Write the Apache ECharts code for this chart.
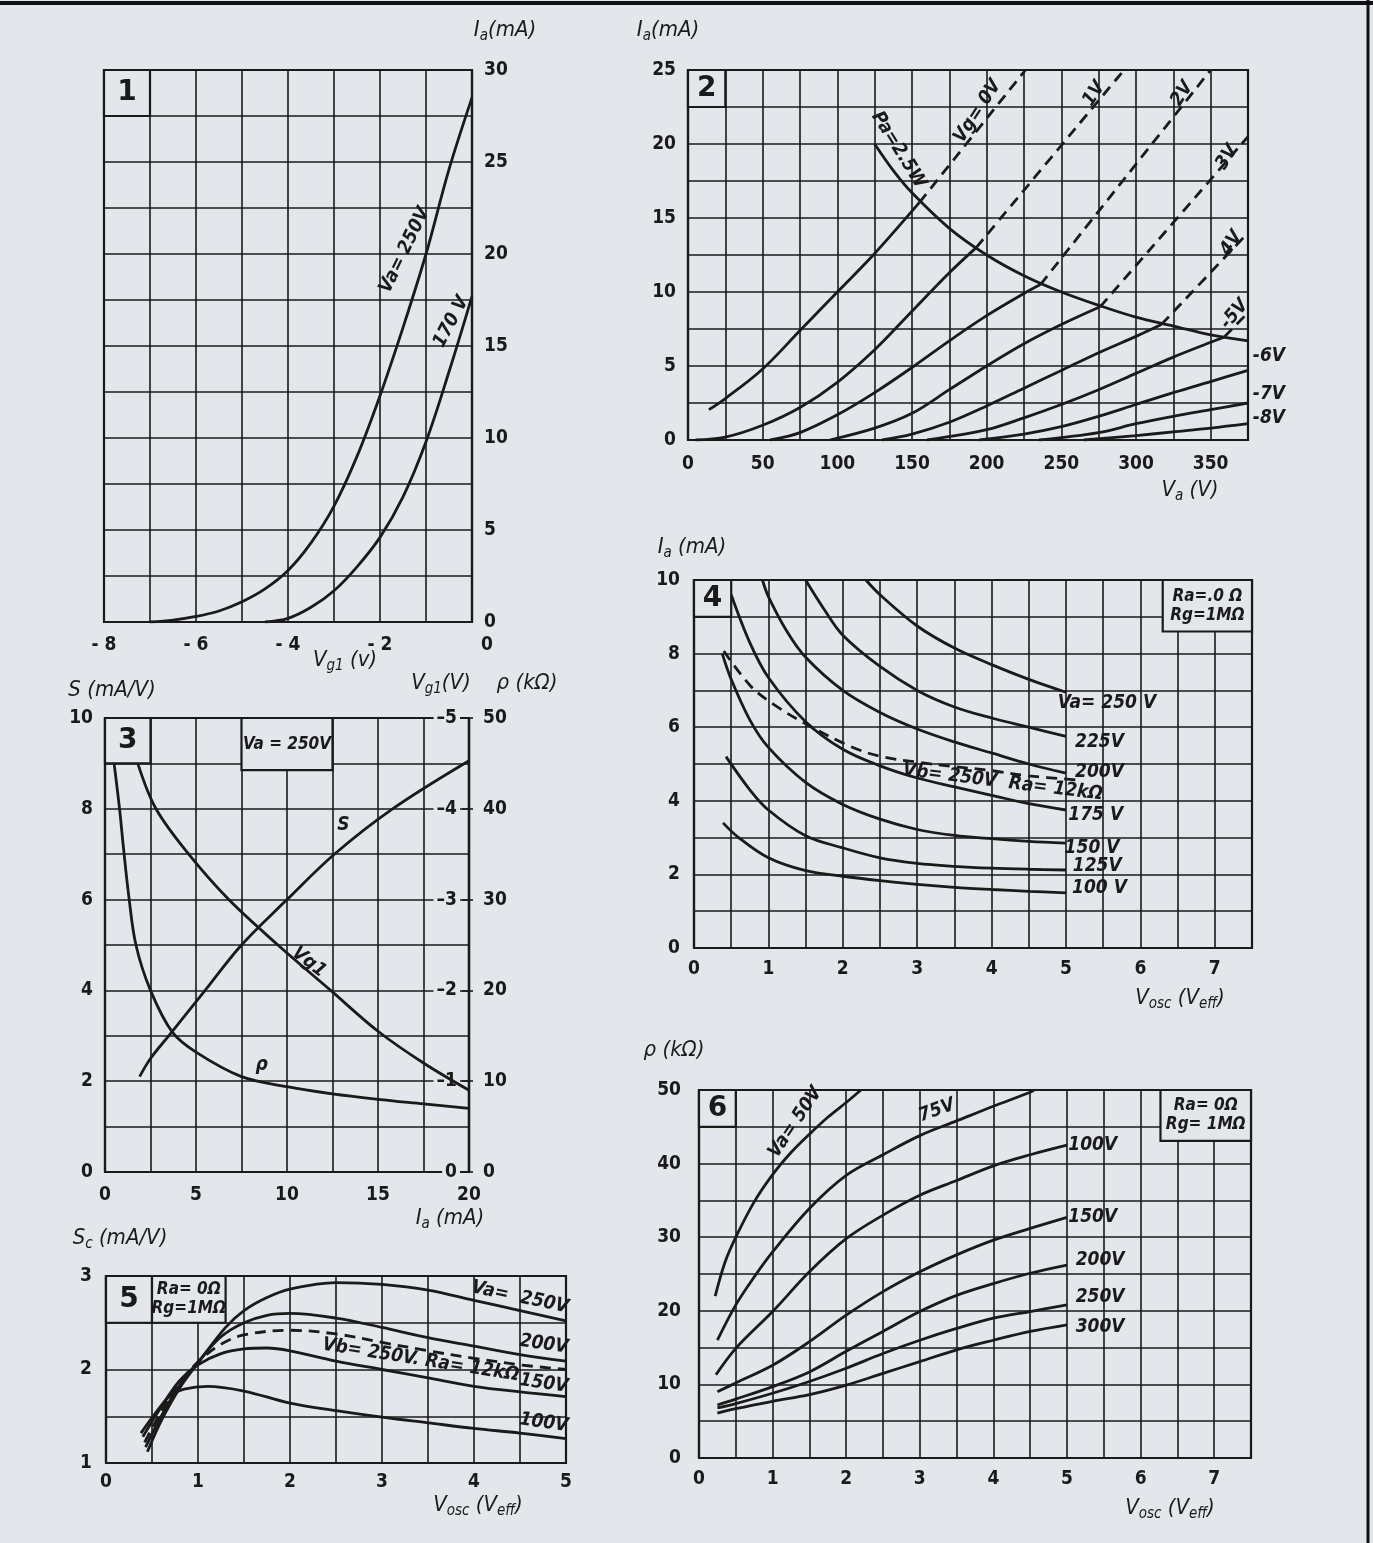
<!DOCTYPE html>
<html>
<head>
<meta charset="utf-8">
<script src="https://cdn.jsdelivr.net/npm/echarts@6/dist/echarts.min.js"></script>
<style>
  html, body { margin: 0; padding: 0; background: #e3e6ea; }
  #c { width: 1373px; height: 1543px; }
</style>
</head>
<body>
<div id="c"></div>
<script>
// ---------- Panel 1: Ia vs Vg1 ----------
const p1Va250 = [[-7,0],[-6.5,0.1],[-6,0.3],[-5.5,0.6],[-5,1.1],[-4.5,1.8],[-4,2.8],[-3.5,4.3],[-3,6.3],[-2.5,9.0],[-2,12.3],[-1.5,16.0],[-1,20.0],[-0.5,24.6],[0,28.5]];
const p1Va170 = [[-4.5,0],[-4,0.2],[-3.5,0.8],[-3,1.7],[-2.5,3.0],[-2,4.6],[-1.5,6.8],[-1,9.8],[-0.5,13.6],[0,17.7]];

// ---------- Panel 2: Ia vs Va, grid-voltage family ----------
const p2Vg0  = [[14,2.05],[25,2.8],[50,4.8],[75,7.4],[100,10],[125,12.6],[155,16.05]];
const p2Vg1  = [[5,0],[25,0.2],[50,1.0],[75,2.2],[100,3.9],[125,6.1],[150,8.7],[175,11.3],[193,13.0]];
const p2Vg2  = [[55,0],[75,0.5],[100,1.7],[125,3.2],[150,4.9],[175,6.7],[200,8.4],[225,9.9],[236,10.5]];
const p2Vg3  = [[95,0],[125,0.8],[150,1.8],[175,3.4],[200,5.0],[225,6.5],[250,7.8],[276,9.0]];
const p2Vg4  = [[130,0],[150,0.4],[175,1.2],[200,2.3],[225,3.5],[250,4.7],[275,5.9],[300,7.0],[317,7.8]];
const p2Vg5  = [[160,0],[200,0.7],[225,1.5],[250,2.4],[275,3.4],[300,4.5],[325,5.6],[350,6.6],[359,6.95]];
const p2Vg6  = [[195,0],[225,0.4],[250,0.9],[275,1.6],[300,2.4],[325,3.2],[350,3.95],[375,4.7]];
const p2Vg7  = [[235,0],[275,0.5],[300,1.1],[325,1.6],[350,2.05],[375,2.5]];
const p2Vg8  = [[265,0],[300,0.3],[325,0.55],[350,0.8],[375,1.1]];
const p2Pa   = [[125,20],[137.5,18.2],[150,16.7],[175,14.3],[200,12.5],[225,11.1],[250,10],[275,9.1],[300,8.3],[325,7.7],[350,7.1],[375,6.7]];
const p2Ext0 = [[155,16.05],[226,25]];
const p2Ext1 = [[193,13.0],[292,25]];
const p2Ext2 = [[236,10.5],[350,25]];
const p2Ext3 = [[276,9.0],[375,20.5]];
const p2Ext4 = [[317,7.8],[375,14.0]];
const p2Ext5 = [[359,6.95],[375,8.6]];

// ---------- Panel 3: S, Vg1, rho vs Ia (Va = 250 V) ----------
const p3S    = [[1.9,2.1],[2.5,2.5],[3.5,3.0],[5.5,4.0],[7.5,5.0],[10,6.0],[12.6,7.0],[15.8,8.0],[20,9.06]];
const p3Vg1  = [[1.8,-4.5],[2.8,-4.0],[4.6,-3.5],[6.8,-3.0],[9.5,-2.5],[12.4,-2.0],[15,-1.55],[17.5,-1.2],[20,-0.9]];
const p3Rho  = [[0.5,45],[0.8,40],[1.0,36],[1.3,30.5],[1.7,25],[2.5,20],[3.7,15.4],[5,13.2],[7.5,10.5],[10,9.4],[12.5,8.6],[15,8.0],[17.5,7.5],[20,7.0]];

// ---------- Panel 4: Ia vs Vosc ----------
const p4Va250 = [[2.31,10],[2.5,9.6],[3.0,8.75],[3.5,8.15],[4.0,7.7],[4.5,7.3],[5.0,6.95]];
const p4Va225 = [[1.5,10],[1.75,9.2],[2.0,8.5],[2.5,7.65],[3.0,7.0],[3.5,6.55],[4.0,6.25],[4.5,6.0],[5.0,5.75]];
const p4Va200 = [[0.92,10],[1.0,9.55],[1.25,8.6],[1.5,7.9],[2.0,7.0],[2.5,6.4],[3.0,5.95],[3.5,5.6],[4.0,5.3],[4.5,5.0],[5.0,4.75]];
const p4Va175 = [[0.5,9.6],[0.75,8.3],[1.0,7.35],[1.5,6.15],[2.0,5.4],[2.5,4.95],[3.0,4.62],[3.5,4.38],[4.0,4.15],[4.5,3.92],[5.0,3.75]];
const p4Va150 = [[0.38,8.0],[0.5,7.3],[0.75,6.2],[1.0,5.45],[1.5,4.5],[2.0,3.9],[2.5,3.5],[3.0,3.22],[3.5,3.06],[4.0,2.97],[4.5,2.9],[5.0,2.85]];
const p4Va125 = [[0.43,5.2],[0.75,4.3],[1.0,3.75],[1.5,3.05],[2.0,2.72],[2.5,2.45],[3.0,2.3],[3.5,2.22],[4.0,2.17],[4.5,2.14],[5.0,2.12]];
const p4Va100 = [[0.39,3.4],[0.6,3.0],[1.0,2.45],[1.5,2.1],[2.0,1.95],[2.5,1.83],[3.0,1.73],[3.5,1.65],[4.0,1.59],[4.5,1.54],[5.0,1.5]];
const p4Ra12k = [[0.4,8.07],[0.76,7.12],[1.07,6.62],[1.52,6.07],[2.1,5.48],[2.5,5.21],[3.0,5.05],[3.5,4.93],[4.0,4.82],[4.5,4.68],[5.13,4.57]];

// ---------- Panel 5: Sc vs Vosc ----------
const p5Va250 = [[0.45,1.12],[0.6,1.45],[0.8,1.8],[1.0,2.07],[1.3,2.45],[1.5,2.63],[1.75,2.77],[2.0,2.86],[2.5,2.93],[3.0,2.91],[3.5,2.85],[4.0,2.74],[4.5,2.63],[5.0,2.52]];
const p5Va200 = [[0.43,1.17],[0.6,1.5],[0.8,1.83],[1.0,2.08],[1.25,2.35],[1.5,2.5],[1.75,2.58],[2.0,2.6],[2.5,2.55],[3.0,2.45],[3.5,2.34],[4.0,2.25],[4.5,2.16],[5.0,2.09]];
const p5Ra12k = [[0.42,1.22],[0.6,1.55],[0.8,1.86],[1.0,2.08],[1.25,2.27],[1.5,2.37],[2.0,2.42],[2.5,2.38],[3.0,2.29],[3.5,2.2],[4.0,2.12],[4.5,2.05],[5.0,2.0]];
const p5Va150 = [[0.4,1.28],[0.6,1.6],[0.8,1.88],[1.0,2.05],[1.25,2.17],[1.5,2.22],[1.75,2.23],[2.0,2.2],[2.5,2.09],[3.0,2.0],[3.5,1.91],[4.0,1.82],[4.5,1.76],[5.0,1.71]];
const p5Va100 = [[0.38,1.32],[0.55,1.55],[0.7,1.72],[0.85,1.79],[1.1,1.82],[1.5,1.77],[2.0,1.64],[2.5,1.56],[3.0,1.49],[3.5,1.43],[4.0,1.37],[4.5,1.32],[5.0,1.26]];

// ---------- Panel 6: rho vs Vosc ----------
const p6Va50  = [[0.22,22],[0.35,26.5],[0.5,30],[0.75,34.8],[1.0,38.5],[1.25,41.5],[1.5,44],[1.75,46.3],[2.0,48.3],[2.2,50]];
const p6Va75  = [[0.25,16],[0.5,20.8],[0.75,24.6],[1.0,28],[1.5,33.9],[2.0,38.4],[2.5,41.2],[3.0,43.8],[3.5,45.8],[4.0,47.8],[4.5,49.7],[4.55,50]];
const p6Va100 = [[0.23,11.3],[0.5,14.9],[1.0,19.9],[1.5,25.3],[2.0,29.8],[2.5,33],[3.0,35.7],[3.5,37.7],[4.0,39.7],[4.5,41.2],[5.0,42.5]];
const p6Va150 = [[0.25,9],[0.5,10.2],[1.0,12.6],[1.5,15.8],[2.0,19.4],[2.5,22.6],[3.0,25.3],[3.5,27.6],[4.0,29.6],[4.5,31.2],[5.0,32.7]];
const p6Va200 = [[0.25,7.2],[0.5,8.0],[1.0,9.7],[1.5,11.7],[2.0,14.5],[2.5,17.2],[3.0,19.9],[3.5,22.1],[4.0,23.7],[4.5,25.1],[5.0,26.2]];
const p6Va250 = [[0.25,6.8],[0.5,7.4],[1.0,8.8],[1.5,10.4],[2.0,12.2],[2.5,14.2],[3.0,16.0],[3.5,17.6],[4.0,19.0],[4.5,19.9],[5.0,20.8]];
const p6Va300 = [[0.25,6.1],[0.5,6.7],[1.0,7.7],[1.5,8.6],[2.0,9.9],[2.5,11.5],[3.0,13.1],[3.5,14.7],[4.0,16.0],[4.5,17.2],[5.0,18.1]];

// Curve labels: panel index, x, y (panel data units), text, rotation in degrees
const curveLabels = [
  [0, -1.46, 20.2, 'Va= 250V', 64], [0, -0.45, 16.3, '170 V', 62],
  [1, 141, 19.6, 'Pa=2.5W', -58], [1, 194, 22.2, 'Vg= 0V', 57], [1, 272, 23.4, '1V', 57],
  [1, 331, 23.4, '2V', 57], [1, 361, 19.1, '3V', 57], [1, 364, 13.3, '4V', 57],
  [1, 366, 8.5, '-5V', 50], [1, 389, 5.7, '-6V', 0], [1, 389, 3.1, '-7V', 0], [1, 389, 1.5, '-8V', 0],
  [2, 13.1, 7.64, 'S', 0], [2, 11.2, 4.62, 'Vg1', -38], [2, 8.6, 2.35, 'ρ', 0],
  [3, 5.55, 6.65, 'Va= 250 V', 0], [3, 5.45, 5.6, '225V', 0], [3, 5.45, 4.78, '200V', 0],
  [3, 5.4, 3.62, '175 V', 0], [3, 5.35, 2.72, '150 V', 0], [3, 5.42, 2.22, '125V', 0],
  [3, 5.45, 1.63, '100 V', 0], [3, 4.15, 4.5, 'Vb= 250V  Ra= 12kΩ', -7],
  [4, 4.5, 2.77, 'Va=  250V', -12], [4, 4.76, 2.27, '200V', -8], [4, 3.42, 2.1, 'Vb= 250V. Ra= 12kΩ', -9],
  [4, 4.76, 1.85, '150V', -8], [4, 4.76, 1.43, '100V', -8],
  [5, 1.31, 45.6, 'Va= 50V', 56], [5, 3.23, 47.2, '75V', 20], [5, 5.35, 42.5, '100V', 0],
  [5, 5.35, 32.8, '150V', 0], [5, 5.45, 26.9, '200V', 0], [5, 5.45, 21.9, '250V', 0], [5, 5.45, 17.8, '300V', 0]
];

// Framed boxes: panel index, x0, y0, x1, y1, text
const panelBoxes = [
  [0, -8, 27.5, -7, 30, '1'],
  [1, 0, 22.5, 25, 25, '2'],
  [2, 0, 9, 2.5, 10, '3'],
  [2, 7.5, 8.85, 12.5, 10, 'Va = 250V'],
  [3, 0, 9, 0.5, 10, '4'],
  [3, 6.3, 8.6, 7.5, 10, 'Ra=.0 Ω\nRg=1MΩ'],
  [4, 0, 2.5, 0.5, 3, '5'],
  [4, 0.5, 2.5, 1.3, 3, 'Ra= 0Ω\nRg=1MΩ'],
  [5, 0, 45, 0.5, 50, '6'],
  [5, 6.27, 43.1, 7.5, 50, 'Ra= 0Ω\nRg= 1MΩ']
];

const INK = '#1a1a1a';
const BG = '#e3e6ea';
const FONT = '"DejaVu Sans Condensed","Liberation Sans Narrow","DejaVu Sans",sans-serif';
const TICK = 19;

function isMul(v, m) { return Math.abs(v / m - Math.round(v / m)) < 1e-6; }

function valueAxis(gi, min, max, step, every, opts) {
  opts = opts || {};
  return {
    type: 'value', gridIndex: gi, min: min, max: max, interval: step,
    position: opts.position, inverse: !!opts.inverse, offset: 0,
    axisLine: { show: true, onZero: false, lineStyle: { color: INK, width: 2.2 } },
    axisTick: opts.tick || { show: false },
    splitLine: { show: opts.split !== false, lineStyle: { color: INK, width: 1.6 } },
    axisLabel: Object.assign({
      show: true, margin: opts.margin || 12, color: INK, fontFamily: FONT, fontSize: TICK, fontWeight: 'bold',
      showMinLabel: true, showMaxLabel: true, hideOverlap: false,
      formatter: function (v) {
        if (!isMul(v, every)) return '';
        return opts.fmt ? opts.fmt(v) : String(Math.round(v));
      }
    }, opts.label || {})
  };
}

const grids = [
  { left: 104, top: 70, width: 368, height: 552 },
  { left: 688, top: 70, width: 560, height: 370 },
  { left: 105, top: 718, width: 364, height: 454 },
  { left: 694, top: 580, width: 558, height: 368 },
  { left: 106, top: 1276, width: 460, height: 187 },
  { left: 699, top: 1090, width: 552, height: 368 }
].map(g => Object.assign({ show: true, borderColor: INK, borderWidth: 2.2, backgroundColor: 'transparent', containLabel: false }, g));

const xAxes = [
  valueAxis(0, -8, 0, 1, 2, { margin: 14,
    fmt: v => v === 0 ? '{z|0}' : '- ' + Math.abs(v),
    label: { rich: { z: { padding: [0, 0, 0, 30], fontSize: TICK, fontWeight: 'bold', fontFamily: FONT, color: INK } } } }),
  valueAxis(1, 0, 375, 25, 50, { margin: 15 }),
  valueAxis(2, 0, 20, 2.5, 5, { margin: 14 }),
  valueAxis(3, 0, 7.5, 0.5, 1, { margin: 12 }),
  valueAxis(4, 0, 5, 0.5, 1, { margin: 10 }),
  valueAxis(5, 0, 7.5, 0.5, 1, { margin: 12 })
];

const yAxes = [
  valueAxis(0, 0, 30, 2.5, 5, { position: 'right', margin: 12 }),
  valueAxis(1, 0, 25, 2.5, 5, { position: 'left', margin: 12 }),
  valueAxis(2, 0, 10, 1, 2, { position: 'left', margin: 12 }),
  valueAxis(2, -5, 0, 1, 1, { position: 'right', inverse: true, split: false, margin: 9,
    tick: { show: true, inside: true, length: 7, lineStyle: { color: INK, width: 1.6 } },
    fmt: v => v === 0 ? '0' : '–' + Math.abs(v),
    label: { inside: true, backgroundColor: BG, padding: [0, 3, 0, 3] } }),
  valueAxis(2, 0, 50, 10, 10, { position: 'right', split: false, margin: 14,
    tick: { show: true, inside: false, length: 4, lineStyle: { color: INK, width: 1.6 } } }),
  valueAxis(3, 0, 10, 1, 2, { position: 'left', margin: 14 }),
  valueAxis(4, 1, 3, 0.5, 1, { position: 'left', margin: 14 }),
  valueAxis(5, 0, 50, 5, 10, { position: 'left', margin: 18 })
];

function curve(xi, yi, data, dashed) {
  return {
    type: 'line', xAxisIndex: xi, yAxisIndex: yi, data: data,
    showSymbol: false, symbol: 'none', smooth: 0.35,
    clip: true, silent: true, animation: false, z: 3,
    lineStyle: { color: INK, width: 2.8, type: dashed ? [11, 7] : 'solid' }
  };
}

const series = [
  curve(0, 0, p1Va250), curve(0, 0, p1Va170),
  curve(1, 1, p2Vg0), curve(1, 1, p2Vg1), curve(1, 1, p2Vg2), curve(1, 1, p2Vg3),
  curve(1, 1, p2Vg4), curve(1, 1, p2Vg5), curve(1, 1, p2Vg6), curve(1, 1, p2Vg7), curve(1, 1, p2Vg8),
  curve(1, 1, p2Pa),
  curve(1, 1, p2Ext0, true), curve(1, 1, p2Ext1, true), curve(1, 1, p2Ext2, true),
  curve(1, 1, p2Ext3, true), curve(1, 1, p2Ext4, true), curve(1, 1, p2Ext5, true),
  curve(2, 2, p3S), curve(2, 3, p3Vg1), curve(2, 4, p3Rho),
  curve(3, 5, p4Va250), curve(3, 5, p4Va225), curve(3, 5, p4Va200), curve(3, 5, p4Va175),
  curve(3, 5, p4Va150), curve(3, 5, p4Va125), curve(3, 5, p4Va100), curve(3, 5, p4Ra12k, true),
  curve(4, 6, p5Va250), curve(4, 6, p5Va200), curve(4, 6, p5Ra12k, true), curve(4, 6, p5Va150), curve(4, 6, p5Va100),
  curve(5, 7, p6Va50), curve(5, 7, p6Va75), curve(5, 7, p6Va100), curve(5, 7, p6Va150),
  curve(5, 7, p6Va200), curve(5, 7, p6Va250), curve(5, 7, p6Va300)
];

const chart = echarts.init(document.getElementById('c'), null, { renderer: 'canvas' });
chart.setOption({
  backgroundColor: BG,
  animation: false,
  grid: grids,
  xAxis: xAxes,
  yAxis: yAxes,
  series: series
});

// Axis titles (rich text: s = subscript)
const SUB = { fontSize: 15, fontStyle: 'italic', fontFamily: FONT, fill: INK, verticalAlign: 'bottom', lineHeight: 28 };
const axisTitles = [
  [505, 30, 'I{s|a}(mA)'], [668, 30, 'I{s|a}(mA)'],
  [345, 660, 'V{s|g1} (v)'], [1190, 490, 'V{s|a} (V)'],
  [112, 690, 'S (mA/V)'], [441, 683, 'V{s|g1}(V)'], [527, 683, 'ρ (kΩ)'],
  [450, 1218, 'I{s|a} (mA)'],
  [692, 547, 'I{s|a} (mA)'], [1180, 998, 'V{s|osc} (V{s|eff})'],
  [120, 1238, 'S{s|c} (mA/V)'], [478, 1505, 'V{s|osc} (V{s|eff})'],
  [674, 1050, 'ρ (kΩ)'], [1170, 1508, 'V{s|osc} (V{s|eff})']
];

const graphics = [];
// outer frame of the sheet
graphics.push({ type: 'line', shape: { x1: 0, y1: 3, x2: 1373, y2: 3 }, style: { stroke: '#111', lineWidth: 4 }, z: 80 });
graphics.push({ type: 'line', shape: { x1: 1368, y1: 0, x2: 1368, y2: 1543 }, style: { stroke: '#111', lineWidth: 3 }, z: 80 });

axisTitles.forEach(t => {
  graphics.push({
    type: 'text', x: t[0], y: t[1], z: 70,
    style: {
      text: t[2], fill: INK, font: 'italic 22px ' + FONT, lineHeight: 28,
      align: 'center', verticalAlign: 'middle', textAlign: 'center', textVerticalAlign: 'middle',
      rich: { s: SUB }
    }
  });
});

panelBoxes.forEach(b => {
  const a = chart.convertToPixel({ gridIndex: b[0] }, [b[1], b[4]]);
  const c = chart.convertToPixel({ gridIndex: b[0] }, [b[3], b[2]]);
  graphics.push({
    type: 'rect', z: 60,
    shape: { x: a[0], y: a[1], width: c[0] - a[0], height: c[1] - a[1] },
    style: { fill: BG, stroke: INK, lineWidth: 2.2 }
  });
  const isNum = /^\d$/.test(b[5]);
  graphics.push({
    type: 'text', z: 61, x: (a[0] + c[0]) / 2, y: (a[1] + c[1]) / 2,
    style: {
      text: b[5], fill: INK,
      font: isNum ? 'bold 28px "DejaVu Sans",sans-serif' : 'italic bold 17px ' + FONT,
      lineHeight: isNum ? 30 : 19,
      align: 'center', verticalAlign: 'middle', textAlign: 'center', textVerticalAlign: 'middle'
    }
  });
});

curveLabels.forEach(n => {
  const p = chart.convertToPixel({ gridIndex: n[0] }, [n[1], n[2]]);
  graphics.push({
    type: 'text', z: 65, x: p[0], y: p[1], rotation: n[4] * Math.PI / 180,
    style: {
      text: n[3], fill: INK, font: 'italic bold 19px ' + FONT,
      align: 'center', verticalAlign: 'middle', textAlign: 'center', textVerticalAlign: 'middle'
    }
  });
});

chart.setOption({ graphic: { elements: graphics } });
</script>
</body>
</html>
